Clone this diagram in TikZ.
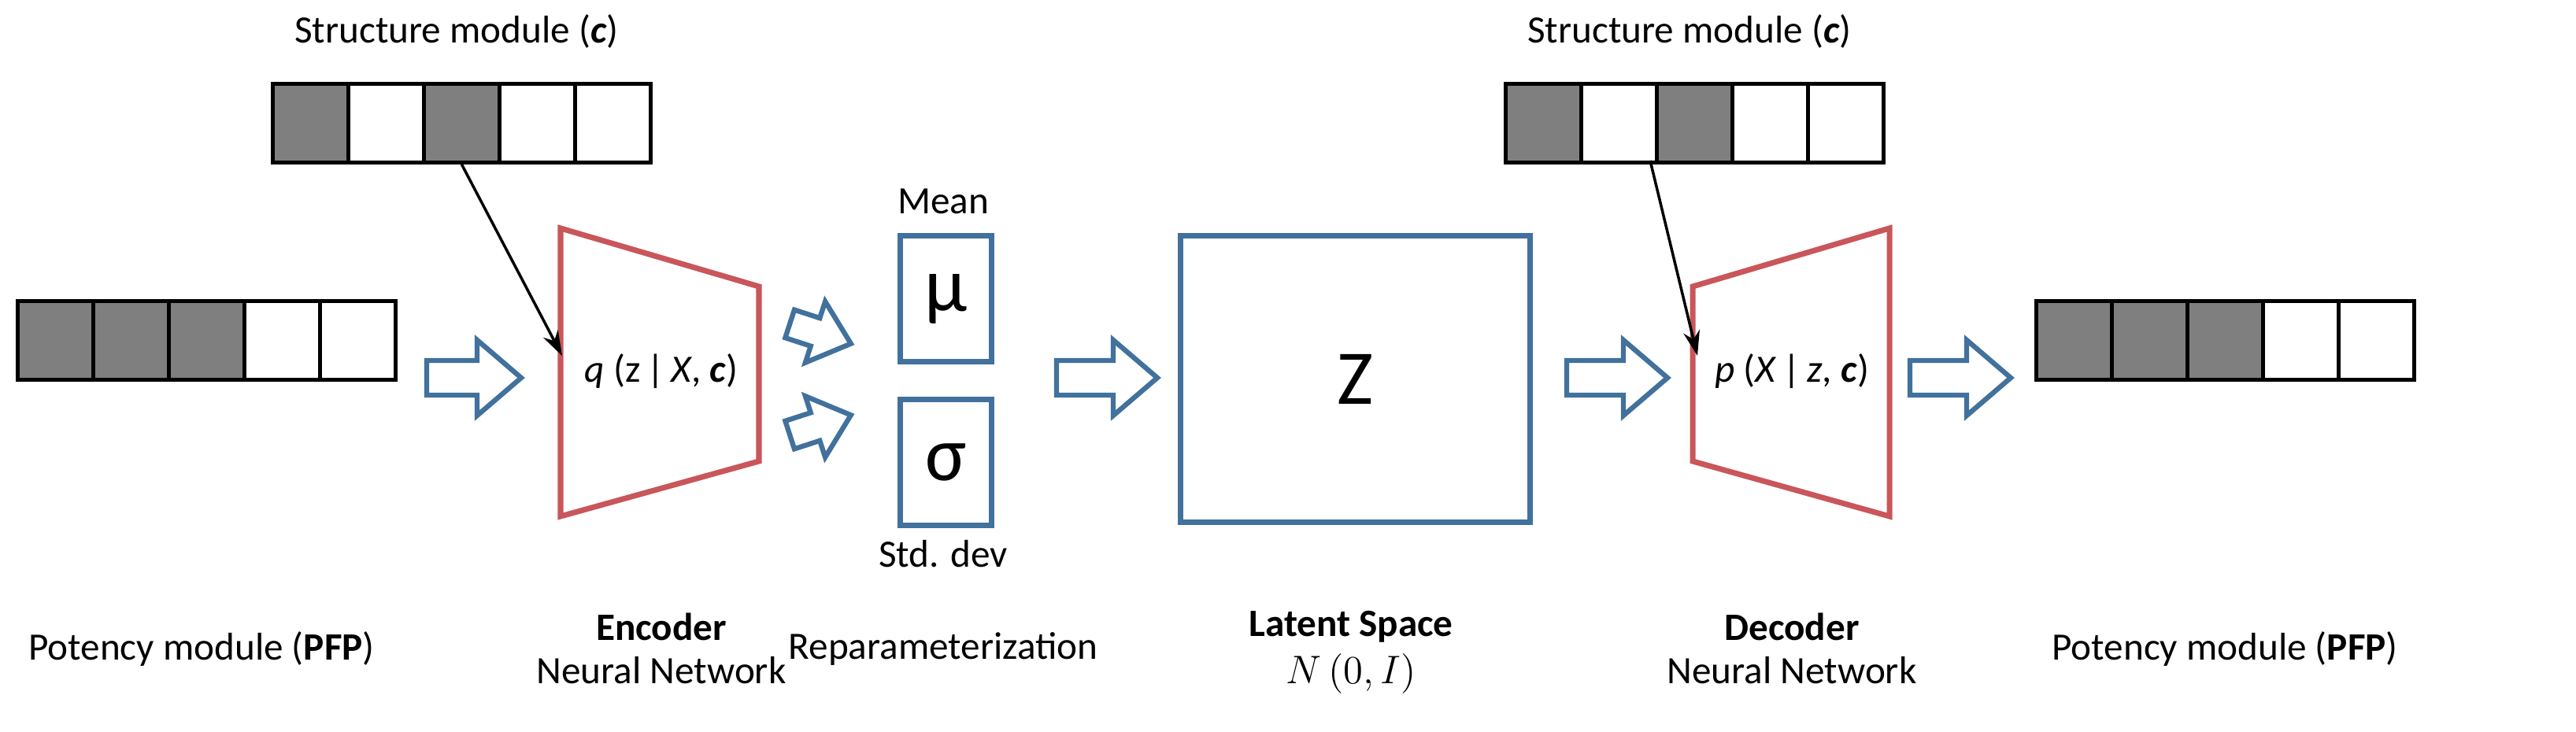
\documentclass[tikz,border=0pt]{standalone}
\usepackage{fontspec}
\setmainfont{Carlito}
\usetikzlibrary{arrows.meta}
\definecolor{bl}{HTML}{41719C}
\definecolor{rd}{HTML}{C9565A}
\definecolor{dk}{HTML}{7F7F7F}
\tikzset{
 cell/.style={draw=black,line width=1.4pt,minimum width=0.96cm,minimum height=1cm,inner sep=0pt},
 on/.style={cell,fill=dk},
 off/.style={cell,fill=white},
 barrow/.style={draw=bl,line width=1.8pt,line join=miter,fill=white},
 box/.style={draw=bl,line width=2pt},
 lab/.style={font=\fontsize{14}{16}\selectfont},
 blab/.style={font=\fontsize{14}{16}\selectfont\bfseries},
 big/.style={font=\fontsize{28}{30}\selectfont},
}
% block arrow: #1 = position, #2 = rotation, #3 = length, #4 = scale
\newcommand{\blockarrow}[4]{%
 \begin{scope}[shift={#1},rotate=#2,scale=#4]
  \draw[barrow] (-#3/2,-11) -- (#3/2-28,-11) -- (#3/2-28,-24) -- (#3/2,0) -- (#3/2-28,24) -- (#3/2-28,11) -- (-#3/2,11) -- cycle;
 \end{scope}}
\begin{document}
\begin{tikzpicture}[x=0.02cm,y=-0.02cm]
\useasboundingbox (0,0) rectangle (1636,465);
% bars
\foreach \s/\x/\y/\p in {in/10/190/{on,on,on,off,off}, out/1292/190/{on,on,on,off,off}, sa/172/52/{on,off,on,off,off}, sb/955/52/{on,off,on,off,off}}{
  \foreach \t [count=\i] in \p {
    \node[\t,anchor=north west] (\s\i) at ({\x+(\i-1)*48},\y) {};
  }
}
\node[lab] (st1) at (290,20) {Structure module (\textbf{\textit{c}})};
\node[lab] (st2) at (1073,20) {Structure module (\textbf{\textit{c}})};
% encoder / decoder
\draw[rd,line width=2pt] (356,145) -- (482,182) -- (482,293) -- (356,328) -- cycle;
\draw[rd,line width=2pt] (1200,145) -- (1075,182) -- (1075,293) -- (1200,328) -- cycle;
\node[lab] (enc) at (420,236) {\textit{q} (z\,|\,\textit{X}, \textbf{\textit{c}})};
\node[lab] (dec) at (1138,236) {\textit{p} (\textit{X}\,|\,\textit{z}, \textbf{\textit{c}})};
\coordinate (et) at (357,226);
\coordinate (dt) at (1078,226);
\coordinate (bs) at (1048,102);
\draw[line width=1pt,-{Stealth[length=9pt,width=6pt]}] (sa3.south) -- (et);
\draw[line width=1pt,-{Stealth[length=9pt,width=6pt]}] (bs) -- (dt);
% boxes
\node[box,minimum width=1.16cm,minimum height=1.6cm,anchor=north west,big] (mu) at (570,148) {μ};
\node[box,minimum width=1.16cm,minimum height=1.6cm,anchor=north west,big] (sg) at (570,252) {σ};
\node[box,minimum width=4.44cm,minimum height=3.64cm,anchor=north west,big] (z) at (748,148) {Z};
\node[lab] (mean) at (599,128) {Mean};
\node[lab] (std) at (599,352) {Std. dev};
% block arrows
\blockarrow{(301,240)}{0}{60}{1}
\blockarrow{(521,212)}{-18}{48}{0.85}
\blockarrow{(521,270)}{18}{48}{0.85}
\blockarrow{(703,240)}{0}{64}{1}
\blockarrow{(1027,240)}{0}{64}{1}
\blockarrow{(1245,240)}{0}{64}{1}
% bottom labels
\node[lab] (l1) at (128,412) {Potency module (\textbf{PFP})};
\node[blab] (l2) at (420,398) {Encoder};
\node[lab] (l3) at (420,426) {Neural Network};
\node[lab] (l4) at (599,412) {Reparameterization};
\node[blab] (l5) at (858,398) {Latent Space};
\node[lab] (l6) at (858,428) {$N\,(0,I)$};
\node[blab] (l7) at (1138,398) {Decoder};
\node[lab] (l8) at (1138,426) {Neural Network};
\node[lab] (l9) at (1413,412) {Potency module (\textbf{PFP})};
\end{tikzpicture}
\end{document}
